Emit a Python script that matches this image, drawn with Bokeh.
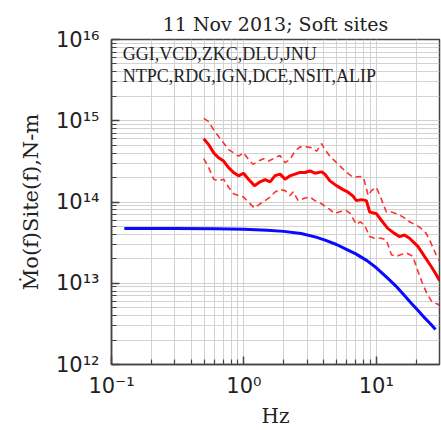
from bokeh.plotting import figure
from bokeh.models import FixedTicker, Label, Range1d, CustomJSTickFormatter
from bokeh.embed import file_html
from bokeh.resources import INLINE

# ---------------- data ----------------
title_text = "11 Nov 2013; Soft sites"
stations_line1 = "GGI,VCD,ZKC,DLU,JNU"
stations_line2 = "NTPC,RDG,IGN,DCE,NSIT,ALIP"
x_label = "Hz"
y_label = "\u1e40o(f)Site(f),N-m"

# observed mean spectrum (solid red)
mean_f = [0.497, 0.542, 0.591, 0.644, 0.702, 0.766, 0.835, 0.911, 0.993, 1.083,
          1.201, 1.326, 1.446, 1.577, 1.719, 1.875, 2.044, 2.229, 2.43, 2.65,
          2.89, 3.15, 3.44, 3.86, 4.09, 4.46, 5.00, 5.61, 6.12, 6.67,
          7.07, 7.71, 8.41, 8.91, 10.0, 10.9, 12.2, 13.7, 15.0, 16.3,
          17.8, 20.6, 23.1, 25.9, 28.3, 30.0]
mean_v = [6.0e14, 5.08e14, 4.03e14, 3.51e14, 3.19e14, 2.65e14, 2.31e14, 2.10e14, 2.26e14, 1.91e14,
          1.59e14, 1.77e14, 1.88e14, 1.77e14, 2.11e14, 2.20e14, 1.91e14, 2.10e14, 2.20e14, 2.31e14,
          2.31e14, 2.41e14, 2.26e14, 2.35e14, 2.20e14, 1.82e14, 1.59e14, 1.42e14, 1.32e14, 1.18e14,
          1.04e14, 1.07e14, 1.04e14, 7.54e13, 7.19e13, 5.96e13, 4.73e13, 4.11e13, 3.75e13, 3.92e13,
          3.58e13, 2.84e13, 2.14e13, 1.62e13, 1.28e13, 1.08e13]

# mean + 1 sigma (upper dashed red)
upper_f = [0.497, 0.542, 0.591, 0.644, 0.702, 0.766, 0.835, 0.911, 0.993, 1.083,
           1.174, 1.287, 1.410, 1.54, 1.719, 1.875, 2.044, 2.229, 2.43, 2.65,
           2.98, 3.25, 3.54, 3.86, 4.09, 4.46, 4.87, 5.47, 5.97, 6.67,
           7.56, 7.99, 8.68, 9.19, 10.0, 10.9, 11.9, 13.0, 14.2, 15.9,
           17.8, 20.0, 21.8, 23.8, 25.9, 28.3, 30.0]
upper_v = [1.07e15, 9.75e14, 7.73e14, 6.41e14, 5.33e14, 4.42e14, 4.03e14, 3.67e14, 4.03e14, 3.34e14,
           2.91e14, 3.19e14, 3.41e14, 3.19e14, 3.51e14, 3.74e14, 3.05e14, 3.34e14, 4.22e14, 4.77e14,
           4.77e14, 4.64e14, 4.22e14, 5.23e14, 4.42e14, 3.67e14, 3.19e14, 2.65e14, 2.31e14, 2.01e14,
           2.06e14, 2.01e14, 1.20e14, 1.38e14, 1.52e14, 1.09e14, 7.54e13, 7.54e13, 7.19e13, 6.56e13,
           5.70e13, 5.19e13, 4.73e13, 4.11e13, 3.11e13, 2.24e13, 1.88e13]

# mean - 1 sigma (lower dashed red)
lower_f = [0.497, 0.542, 0.591, 0.644, 0.702, 0.766, 0.835, 0.911, 0.993, 1.083,
           1.201, 1.326, 1.446, 1.577, 1.719, 1.875, 2.044, 2.229, 2.36, 2.57,
           2.89, 3.15, 3.44, 3.86, 4.38, 4.84, 5.43, 5.92, 6.38, 6.67,
           7.07, 7.56, 8.16, 8.91, 9.69, 10.9, 11.9, 13.0, 14.2, 15.2,
           16.9, 18.9, 20.6, 22.2, 24.2, 26.5, 28.9, 30.0]
lower_v = [3.41e14, 2.65e14, 1.91e14, 1.82e14, 1.91e14, 1.52e14, 1.26e14, 1.20e14, 1.15e14, 9.97e13,
           8.43e13, 9.51e13, 1.04e14, 1.15e14, 1.33e14, 1.42e14, 1.38e14, 1.20e14, 1.34e14, 1.04e14,
           1.12e14, 1.15e14, 1.04e14, 9.51e13, 8.27e13, 7.19e13, 7.67e13, 7.89e13, 7.19e13, 6.25e13,
           5.29e13, 5.70e13, 5.19e13, 3.75e13, 3.58e13, 3.58e13, 3.41e13, 2.24e13, 2.14e13, 2.24e13,
           2.35e13, 2.14e13, 1.41e13, 1.02e13, 7.33e12, 5.82e12, 5.55e12, 5.35e12]

# model source spectrum (blue)
model_f = [0.125, 0.3, 0.6, 1.0, 1.5, 2.0, 2.7, 3.5, 4.1, 5.0,
           6.0, 7.0, 8.5, 10.0, 12.0, 14.0, 16.0, 18.5, 21.0, 23.0,
           25.5, 28.0]
model_v = [4.72e13, 4.72e13, 4.70e13, 4.62e13, 4.50e13, 4.35e13, 4.10e13, 3.70e13, 3.40e13, 3.00e13,
           2.60e13, 2.30e13, 1.90e13, 1.55e13, 1.18e13, 9.3e12, 7.3e12, 5.6e12, 4.5e12, 3.8e12,
           3.2e12, 2.7e12]

x_major = [0.1, 1, 10]
x_minor = [0.2, 0.3, 0.4, 0.5, 0.6, 0.7, 0.8, 0.9, 2, 3, 4, 5, 6, 7, 8, 9, 20]
y_major = [1e12, 1e13, 1e14, 1e15, 1e16]
y_minor = [k * 10.0 ** n for n in range(12, 16) for k in range(2, 10)]

# ---------------- figure ----------------
p = figure(width=441, height=430, x_axis_type="log", y_axis_type="log",
           x_range=Range1d(0.1, 30), y_range=Range1d(1e12, 1e16),
           output_backend="svg", toolbar_location=None,
           min_border_left=111, min_border_right=2, min_border_top=39, min_border_bottom=62)

p.title.text = title_text
p.title.align = "center"
p.title.text_font = "DejaVu Serif"
p.title.text_font_size = "19px"
p.title.text_font_style = "normal"
p.title.text_color = "#222222"

p.outline_line_color = "#444444"
p.outline_line_width = 1.5
p.outline_line_alpha = 1.0

xt = FixedTicker(ticks=x_major, minor_ticks=x_minor)
yt = FixedTicker(ticks=y_major, minor_ticks=y_minor)

sup_code = """
const sup = {'-':'\u207b','0':'\u2070','1':'\u00b9','2':'\u00b2','3':'\u00b3','4':'\u2074',
             '5':'\u2075','6':'\u2076','7':'\u2077','8':'\u2078','9':'\u2079'};
const e = Math.round(Math.log10(tick));
return '10' + String(e).split('').map(c => sup[c]).join('');
"""

for ax, t in ((p.xaxis[0], xt), (p.yaxis[0], yt)):
    ax.ticker = t
    ax.formatter = CustomJSTickFormatter(code=sup_code)
    ax.major_label_text_font = "DejaVu Sans"
    ax.major_label_text_font_size = "21px"
    ax.major_label_text_color = "#222222"
    ax.axis_label_text_font = "DejaVu Serif"
    ax.axis_label_text_font_style = "normal"
    ax.axis_label_text_color = "#222222"
    ax.axis_line_color = "#444444"
    ax.axis_line_width = 1.5
    ax.major_tick_line_color = "#444444"
    ax.minor_tick_line_color = "#444444"
    ax.major_tick_line_width = 1.5
    ax.minor_tick_line_width = 1.2
    ax.major_tick_in = 8
    ax.major_tick_out = 0
    ax.minor_tick_in = 5
    ax.minor_tick_out = 0

p.xaxis.axis_label = x_label
p.xaxis.axis_label_text_font_size = "20px"
p.xaxis.major_label_standoff = 9
p.xaxis.axis_label_standoff = 3

p.yaxis.axis_label = y_label
p.yaxis.axis_label_text_font_size = "21px"
p.yaxis.major_label_standoff = 12
p.yaxis.axis_label_standoff = 10
p.yaxis.major_label_orientation = "horizontal"

for g, t in ((p.xgrid[0], xt), (p.ygrid[0], yt)):
    g.ticker = t
    g.grid_line_color = "#d2d2d2"
    g.grid_line_width = 1
    g.minor_grid_line_color = "#d2d2d2"
    g.minor_grid_line_width = 1

p.line(model_f, model_v, line_color="#0a0aff", line_width=3)
p.line(upper_f, upper_v, line_color="#ff3030", line_width=1.6, line_dash="6 4")
p.line(lower_f, lower_v, line_color="#ff3030", line_width=1.6, line_dash="6 4")
p.line(mean_f, mean_v, line_color="#ff0000", line_width=3)

for txt, yv in ((stations_line1, 6.65e15), (stations_line2, 3.6e15)):
    p.add_layout(Label(x=0.1216, y=yv, text=txt, text_font="Liberation Serif",
                       text_font_size="18px", text_color="#222222",
                       text_baseline="middle", text_align="left"))

open("out.html", "w").write(file_html(p, INLINE))
